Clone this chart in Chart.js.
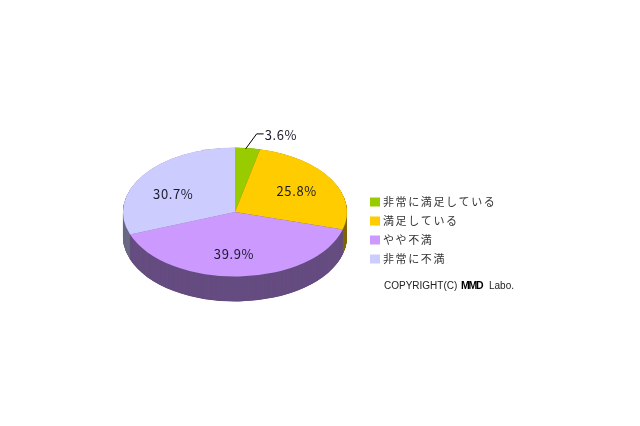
<!DOCTYPE html>
<html>
<head>
<meta charset="utf-8">
<script src="https://cdn.jsdelivr.net/npm/chart.js@4"></script>
<style>
html,body{margin:0;padding:0;background:#fff}
#wrap{position:relative;width:640px;height:426px;overflow:hidden}
</style>
</head>
<body>
<div id="wrap"><canvas id="c" width="640" height="426"></canvas></div>
<script>
const categories = ['非常に満足している', '満足している', 'やや不満', '非常に不満'];
const values = [3.6, 25.8, 39.9, 30.7];
const valueLabels = ['3.6%', '25.8%', '39.9%', '30.7%'];
const topColors = ['#99CC00', '#FFCC00', '#CC99FF', '#CCCCFF'];
const sideColors = ['#4D6600', '#806600', '#664D80', '#6A6A85'];
const squash = 0.576;
const depth = 25;
const labelNudgeX = [0, -1, -4, -2];
const labelNudgeY = [0, 0, 0, 6];

const tiltPlugin = {
  id: 'tilt',
  beforeDatasetsDraw(chart) {
    const ctx = chart.ctx;
    const arcs = chart.getDatasetMeta(0).data;
    const cx = arcs[0].x, cy = arcs[0].y;
    const tilt = (dy) => {
      ctx.translate(cx, cy + dy);
      ctx.scale(1, squash);
      ctx.translate(-cx, -cy);
    };
    for (let dy = depth; dy >= 0.25; dy -= 0.25) {
      ctx.save();
      tilt(dy);
      arcs.forEach((arc, i) => {
        const original = arc.options;
        const dark = Object.create(original);
        dark.backgroundColor = sideColors[i];
        dark.borderColor = sideColors[i];
        dark.borderWidth = 0;
        arc.options = dark;
        arc.draw(ctx);
        arc.options = original;
      });
      ctx.restore();
    }
    ctx.save();
    tilt(0);
  },
  afterDatasetsDraw(chart) {
    const ctx = chart.ctx;
    ctx.restore();
    const arcs = chart.getDatasetMeta(0).data;
    ctx.save();
    ctx.fillStyle = '#1a1a2a';
    ctx.font = '13px "Noto Sans CJK JP"';
    ctx.letterSpacing = '0.6px';
    ctx.textBaseline = 'middle';
    arcs.forEach((arc, i) => {
      const mid = (arc.startAngle + arc.endAngle) / 2;
      const r = arc.outerRadius;
      const ex = arc.x + r * Math.cos(mid);
      const ey = arc.y + r * squash * Math.sin(mid);
      if (i === 0) {
        const lx = ex + 11, ly = ey - 14;
        ctx.strokeStyle = '#000';
        ctx.lineWidth = 1;
        ctx.beginPath();
        ctx.moveTo(ex - 2, ey + 1);
        ctx.lineTo(lx - 2, ly);
        ctx.lineTo(lx + 5, ly);
        ctx.stroke();
        ctx.textAlign = 'left';
        ctx.fillText(valueLabels[i], lx + 6, ly + 1);
      } else {
        const f = 0.65;
        ctx.textAlign = 'center';
        ctx.fillText(valueLabels[i],
          arc.x + r * f * Math.cos(mid) + labelNudgeX[i],
          arc.y + r * f * squash * Math.sin(mid) + labelNudgeY[i]);
      }
    });
    ctx.restore();
  },
  afterDraw(chart) {
    const ctx = chart.ctx;
    ctx.save();
    ctx.textBaseline = 'middle';
    ctx.textAlign = 'left';
    categories.forEach((name, i) => {
      const y = 202 + i * 19;
      ctx.fillStyle = topColors[i];
      ctx.fillRect(370, y - 4.5, 10, 9);
      ctx.fillStyle = '#333';
      ctx.font = '11px "Noto Sans CJK JP"';
      ctx.letterSpacing = '1.6px';
      ctx.fillText(name, 383, y);
    });
    ctx.letterSpacing = '0px';
    ctx.fillStyle = '#222';
    ctx.font = '10px "Liberation Sans"';
    ctx.fillText('COPYRIGHT(C)', 384, 286);
    ctx.font = 'bold 10.5px "Liberation Sans"';
    ctx.letterSpacing = '-1.2px';
    ctx.fillStyle = '#000';
    ctx.fillText('MMD', 461, 286);
    ctx.letterSpacing = '0px';
    ctx.fillStyle = '#222';
    ctx.font = '10px "Liberation Sans"';
    ctx.fillText('Labo.', 489, 286);
    ctx.restore();
  }
};

new Chart(document.getElementById('c'), {
  type: 'pie',
  data: {
    labels: categories,
    datasets: [{
      data: values,
      backgroundColor: topColors,
      borderWidth: 0,
      clip: false
    }]
  },
  options: {
    responsive: false,
    animation: false,
    layout: { padding: { left: 123, right: 293, top: 100, bottom: 102 } },
    plugins: { legend: { display: false }, tooltip: { enabled: false } }
  },
  plugins: [tiltPlugin]
});
</script>
</body>
</html>
